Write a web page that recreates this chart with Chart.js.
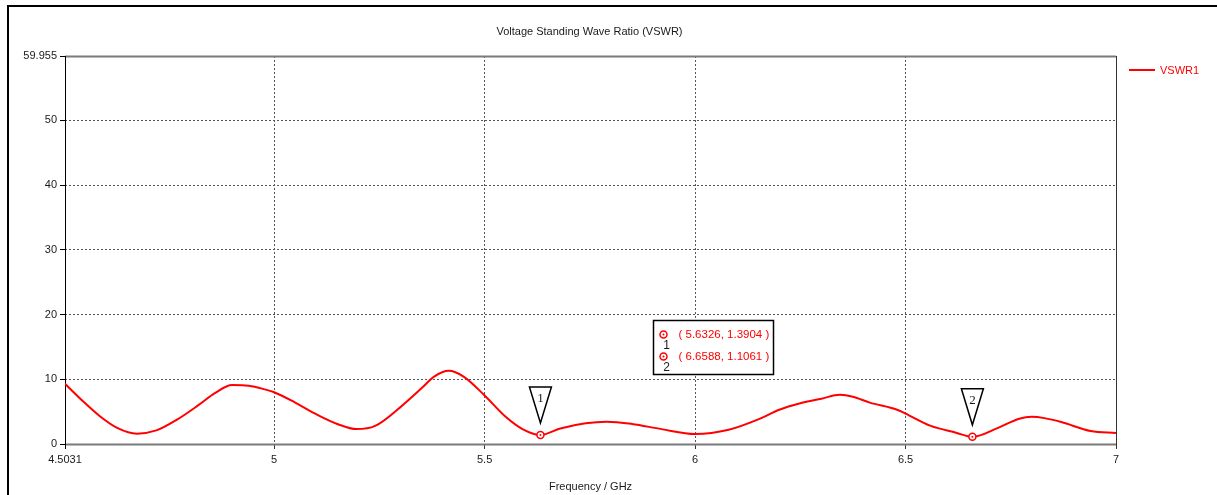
<!DOCTYPE html>
<html>
<head>
<meta charset="utf-8">
<title>VSWR</title>
<script src="https://cdn.jsdelivr.net/npm/chart.js@4.4.1/dist/chart.umd.min.js"></script>
<style>
    html, body { margin: 0; padding: 0; background: #fff; }
    #wrap { position: relative; width: 1217px; height: 495px; }
</style>
</head>
<body>
<div id="wrap"><canvas id="vswr" width="1217" height="495"></canvas></div>
<script>
// Voltage Standing Wave Ratio

const freqGHz = [
    4.5031, 4.546, 4.586, 4.627, 4.674, 4.72, 4.77, 4.82, 4.86, 4.90,
    4.94, 4.98, 5.0, 5.05, 5.1, 5.15, 5.196, 5.24, 5.30, 5.35,
    5.38, 5.415, 5.45, 5.5, 5.55, 5.59, 5.6326, 5.68, 5.74, 5.79,
    5.85, 5.92, 6.0, 6.08, 6.15, 6.2, 6.25, 6.3, 6.344, 6.375,
    6.415, 6.48, 6.5, 6.56, 6.62, 6.6588, 6.72, 6.77, 6.8, 6.83,
    6.87, 6.94, 7.0
];
const vswr1 = [
    9.3, 6.6, 4.3, 2.5, 1.6, 2.1, 3.8, 6.0, 7.9, 9.1,
    9.0, 8.4, 8.0, 6.4, 4.6, 3.1, 2.3, 2.8, 5.7, 8.6,
    10.4, 11.3, 10.4, 7.5, 4.2, 2.3, 1.3904, 2.4, 3.2, 3.45,
    3.1, 2.3, 1.55, 2.2, 3.8, 5.3, 6.3, 7.0, 7.6, 7.3,
    6.4, 5.3, 4.7, 2.8, 1.75, 1.1061, 2.5, 3.9, 4.2, 4.0,
    3.4, 2.0, 1.7
];

const markerFreq = [5.6326, 6.6588];
const markerVswr = [1.3904, 1.1061];
const markerNames = ['1', '2'];

const xTicks = [4.5031, 5, 5.5, 6, 6.5, 7];
const yTicks = [0, 10, 20, 30, 40, 50, 59.955];

const RED = 'rgb(255, 0, 0)';
const TEXT = '#1a1a1a';
const GRID = '#555555';
const FONT = "'Liberation Sans', Arial, sans-serif";

const points = freqGHz.map((f, i) => ({ x: f, y: vswr1[i] }));
const markerPoints = markerFreq.map((f, i) => ({ x: f, y: markerVswr[i] }));

function fmt(v, d) {
    return v.toFixed(d);
}

// desenha moldura, título, legenda, triângulos dos marcadores e caixa de leitura
const decorPlugin = {
    id: 'decor',
    beforeDraw(chart) {
        const { ctx } = chart;
        ctx.save();
        ctx.fillStyle = '#fff';
        ctx.fillRect(0, 0, chart.width, chart.height);
        // moldura externa (só topo e esquerda visíveis)
        ctx.strokeStyle = '#000';
        ctx.lineWidth = 2;
        ctx.beginPath();
        ctx.moveTo(8, chart.height + 2);
        ctx.lineTo(8, 6);
        ctx.lineTo(chart.width + 2, 6);
        ctx.stroke();
        ctx.restore();
    },
    beforeDatasetsDraw(chart) {
        const { ctx, chartArea: a } = chart;
        ctx.save();
        // topo e base cinzentos
        ctx.strokeStyle = '#7a7a7a';
        ctx.lineWidth = 2;
        ctx.beginPath();
        ctx.moveTo(a.left, a.top + 0.5);
        ctx.lineTo(a.right, a.top + 0.5);
        ctx.moveTo(a.left, a.bottom + 0.5);
        ctx.lineTo(a.right, a.bottom + 0.5);
        ctx.stroke();
        // eixo esquerdo preto, direita cinza escuro
        ctx.lineWidth = 1;
        ctx.strokeStyle = '#000';
        ctx.beginPath();
        ctx.moveTo(a.left + 0.5, a.top);
        ctx.lineTo(a.left + 0.5, a.bottom + 5);
        ctx.stroke();
        ctx.strokeStyle = '#333';
        ctx.beginPath();
        ctx.moveTo(a.right + 0.5, a.top);
        ctx.lineTo(a.right + 0.5, a.bottom + 5);
        ctx.stroke();
        ctx.restore();
    },
    afterDraw(chart) {
        const { ctx, chartArea: a, scales } = chart;
        const xs = scales.x, ys = scales.y;
        ctx.save();

        // título
        ctx.fillStyle = TEXT;
        ctx.font = '11px ' + FONT;
        ctx.textAlign = 'center';
        ctx.textBaseline = 'middle';
        ctx.fillText('Voltage Standing Wave Ratio (VSWR)', (a.left + a.right) / 2 - 1, 32);

        // legenda
        ctx.strokeStyle = RED;
        ctx.lineWidth = 2;
        ctx.beginPath();
        ctx.moveTo(a.right + 13, 70);
        ctx.lineTo(a.right + 39, 70);
        ctx.stroke();
        ctx.fillStyle = RED;
        ctx.font = '11px ' + FONT;
        ctx.textAlign = 'left';
        ctx.fillText('VSWR1', a.right + 44, 71);

        // triângulos dos marcadores
        markerPoints.forEach((p, i) => {
            const px = xs.getPixelForValue(p.x);
            const py = ys.getPixelForValue(p.y);
            const tip = py - 12;
            const top = tip - 36;
            ctx.beginPath();
            ctx.moveTo(px - 11, top);
            ctx.lineTo(px + 11, top);
            ctx.lineTo(px, tip);
            ctx.closePath();
            ctx.fillStyle = '#fff';
            ctx.fill();
            ctx.strokeStyle = '#000';
            ctx.lineWidth = 1.5;
            ctx.stroke();
            ctx.fillStyle = TEXT;
            ctx.font = "13px 'Liberation Serif', serif";
            ctx.textAlign = 'center';
            ctx.textBaseline = 'middle';
            ctx.fillText(markerNames[i], px, top + 12);
        });

        // caixa de leitura dos marcadores
        const bx = Math.round(xs.getPixelForValue(5.9)) + 0.5;
        const by = Math.round(ys.getPixelForValue(20)) + 5.5;
        const bw = 120, bh = 54;
        ctx.fillStyle = '#fff';
        ctx.fillRect(bx, by, bw, bh);
        ctx.strokeStyle = '#000';
        ctx.lineWidth = 1.5;
        ctx.strokeRect(bx, by, bw, bh);
        markerPoints.forEach((p, i) => {
            const ry = by + 14 + i * 22;
            ctx.beginPath();
            ctx.arc(bx + 10, ry, 3.5, 0, Math.PI * 2);
            ctx.fillStyle = '#fff';
            ctx.fill();
            ctx.strokeStyle = RED;
            ctx.lineWidth = 1.5;
            ctx.stroke();
            ctx.beginPath();
            ctx.arc(bx + 10, ry, 1, 0, Math.PI * 2);
            ctx.fillStyle = RED;
            ctx.fill();
            ctx.fillStyle = TEXT;
            ctx.font = '12px ' + FONT;
            ctx.textAlign = 'center';
            ctx.textBaseline = 'middle';
            ctx.fillText(markerNames[i], bx + 13, ry + 11);
            ctx.fillStyle = RED;
            ctx.font = '11.5px ' + FONT;
            ctx.textAlign = 'left';
            ctx.fillText('( ' + fmt(p.x, 4) + ', ' + fmt(p.y, 4) + ' )', bx + 25, ry);
        });

        ctx.restore();
    }
};

const hideEnds = (ctx) => {
    const n = ctx.chart.scales[ctx.scale.id].ticks.length;
    return ctx.index === 0 || ctx.index === n - 1 ? 'rgba(0,0,0,0)' : GRID;
};

new Chart(document.getElementById('vswr').getContext('2d'), {
    type: 'line',
    data: {
        datasets: [
            {
                label: 'VSWR1',
                data: points,
                borderColor: RED,
                borderWidth: 2,
                pointRadius: 0,
                cubicInterpolationMode: 'monotone',
                fill: false,
                order: 2,
            },
            {
                label: 'markers',
                data: markerPoints,
                showLine: false,
                pointRadius: 3.5,
                pointBorderWidth: 1.5,
                pointBorderColor: RED,
                pointBackgroundColor: '#fff',
                order: 1,
            },
            {
                label: 'markerDots',
                data: markerPoints,
                showLine: false,
                pointRadius: 1,
                pointBorderWidth: 0,
                pointBackgroundColor: RED,
                order: 0,
            },
        ]
    },
    options: {
        responsive: false,
        animation: false,
        devicePixelRatio: 1,
        layout: {
            padding: { left: 0, top: 56, right: 101, bottom: 0 },
        },
        plugins: {
            legend: { display: false },
            tooltip: { enabled: false },
            title: { display: false },
        },
        scales: {
            x: {
                type: 'linear',
                min: 4.5031,
                max: 7,
                afterBuildTicks: (scale) => {
                    scale.ticks = xTicks.map((v) => ({ value: v }));
                },
                afterFit: (scale) => { scale.height = 51; },
                border: { display: false, dash: [2, 2] },
                grid: {
                    color: hideEnds,
                    lineWidth: 1,
                    drawTicks: true,
                    tickLength: 5,
                    tickColor: '#333',
                },
                ticks: {
                    autoSkip: false,
                    maxRotation: 0,
                    minRotation: 0,
                    padding: 4,
                    color: TEXT,
                    font: { size: 11, family: FONT },
                    callback: (v) => String(v),
                },
                title: {
                    display: true,
                    text: 'Frequency / GHz',
                    color: TEXT,
                    font: { size: 11, family: FONT },
                    padding: { top: 0, bottom: 1 },
                },
            },
            y: {
                type: 'linear',
                min: 0,
                max: 59.955,
                afterBuildTicks: (scale) => {
                    scale.ticks = yTicks.map((v) => ({ value: v }));
                },
                afterFit: (scale) => { scale.width = 65; },
                border: { display: false, dash: [2, 2] },
                grid: {
                    color: hideEnds,
                    lineWidth: 1,
                    drawTicks: true,
                    tickLength: 5,
                    tickColor: '#000',
                },
                ticks: {
                    padding: 3,
                    color: TEXT,
                    font: { size: 11, family: FONT },
                    callback: (v) => String(v),
                },
            },
        },
    },
    plugins: [decorPlugin],
});
</script>
</body>
</html>
